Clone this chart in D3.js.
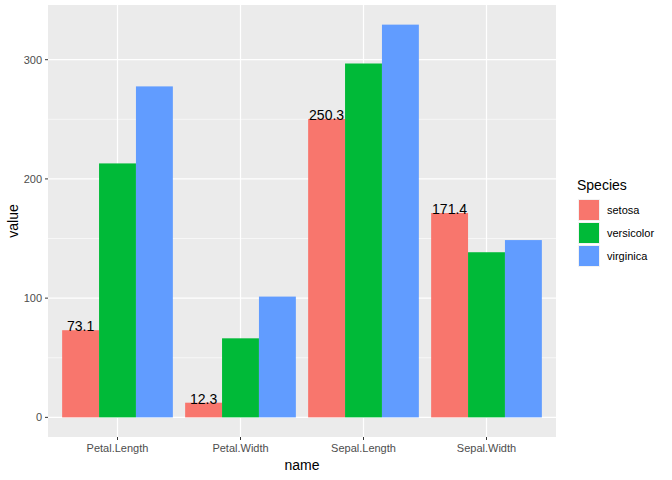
<!DOCTYPE html>
<html><head><meta charset="utf-8">
<script src="https://cdn.jsdelivr.net/npm/d3@7"></script>
<style>body{margin:0;background:#fff}text{font-family:"Liberation Sans",Arial,sans-serif}</style>
</head><body>
<svg id="chart" width="672" height="480"></svg>
<script>
const names = ['Petal.Length', 'Petal.Width', 'Sepal.Length', 'Sepal.Width'];
const species = ['setosa', 'versicolor', 'virginica'];
const setosa = [73.1, 12.3, 250.3, 171.4];
const versicolor = [213.0, 66.3, 296.8, 138.5];
const virginica = [277.6, 101.3, 329.4, 148.7];
const colors = ['#F8766D', '#00BA38', '#619CFF'];
const yTicks = [0, 100, 200, 300];

const svg = d3.select('#chart');
const pLeft = 48, pRight = 556, pTop = 5, pBottom = 437;
const values = [setosa, versicolor, virginica];

// panel background
svg.append('rect').attr('x', pLeft).attr('y', pTop)
  .attr('width', pRight - pLeft).attr('height', pBottom - pTop).attr('fill', '#EBEBEB');

const y = d3.scaleLinear().domain([-16.47, 345.87]).range([pBottom, pTop]);
const x = d3.scaleBand().domain(names).range([pLeft + 8, pRight - 8]).paddingInner(0.1).paddingOuter(0.05);
const xs = d3.scaleBand().domain(species).range([0, x.bandwidth()]);

// minor grid
[50, 150, 250].forEach(v => {
  svg.append('line').attr('x1', pLeft).attr('x2', pRight).attr('y1', y(v)).attr('y2', y(v))
    .attr('stroke', '#fff').attr('stroke-width', 0.6);
});
yTicks.forEach(v => {
  svg.append('line').attr('x1', pLeft).attr('x2', pRight).attr('y1', y(v)).attr('y2', y(v))
    .attr('stroke', '#fff').attr('stroke-width', 1.2);
});
names.forEach(n => {
  const cx = x(n) + x.bandwidth() / 2;
  svg.append('line').attr('x1', cx).attr('x2', cx).attr('y1', pTop).attr('y2', pBottom)
    .attr('stroke', '#fff').attr('stroke-width', 1.2);
});

// bars
species.forEach((s, i) => {
  svg.selectAll('.bar-' + s)
    .data(values[i])
    .enter()
    .append('rect')
    .attr('x', (d, j) => x(names[j]) + xs(s))
    .attr('width', xs.bandwidth())
    .attr('y', d => y(d))
    .attr('height', d => y(0) - y(d))
    .attr('fill', colors[i]);
});

// setosa labels
svg.selectAll('.lab').data(setosa).enter().append('text')
  .attr('x', (d, j) => x(names[j]) + xs('setosa') + xs.bandwidth() / 2)
  .attr('y', d => y(d) + 1)
  .attr('text-anchor', 'middle')
  .style('font-size', '14px').attr('fill', '#000')
  .text(d => d.toFixed(1));

// axes
svg.selectAll('.yt').data(yTicks).enter().append('text')
  .attr('x', pLeft - 6).attr('y', d => y(d) + 4).attr('text-anchor', 'end')
  .style('font-size', '11px').attr('fill', '#4D4D4D').text(d => d);
yTicks.forEach(v => svg.append('line').attr('x1', pLeft - 3).attr('x2', pLeft)
  .attr('y1', y(v)).attr('y2', y(v)).attr('stroke', '#333'));
names.forEach(n => {
  const cx = x(n) + x.bandwidth() / 2;
  svg.append('line').attr('x1', cx).attr('x2', cx).attr('y1', pBottom).attr('y2', pBottom + 3).attr('stroke', '#333');
  svg.append('text').attr('x', cx).attr('y', pBottom + 15).attr('text-anchor', 'middle')
    .style('font-size', '11px').attr('fill', '#4D4D4D').text(n);
});
svg.append('text').attr('x', (pLeft + pRight) / 2).attr('y', 470).attr('text-anchor', 'middle')
  .style('font-size', '14px').text('name');
svg.append('text').attr('transform', `translate(18,${(pTop + pBottom) / 2}) rotate(-90)`)
  .attr('text-anchor', 'middle').style('font-size', '14px').text('value');

// legend
svg.append('text').attr('x', 577).attr('y', 190).style('font-size', '14px').text('Species');
species.forEach((s, i) => {
  svg.append('rect').attr('x', 578).attr('y', 199 + i * 23).attr('width', 22).attr('height', 22).attr('fill', '#F2F2F2');
  svg.append('rect').attr('x', 579).attr('y', 200 + i * 23).attr('width', 20).attr('height', 20).attr('fill', colors[i]);
  svg.append('text').attr('x', 607).attr('y', 214 + i * 23).style('font-size', '11px').text(s);
});
</script>
</body></html>
